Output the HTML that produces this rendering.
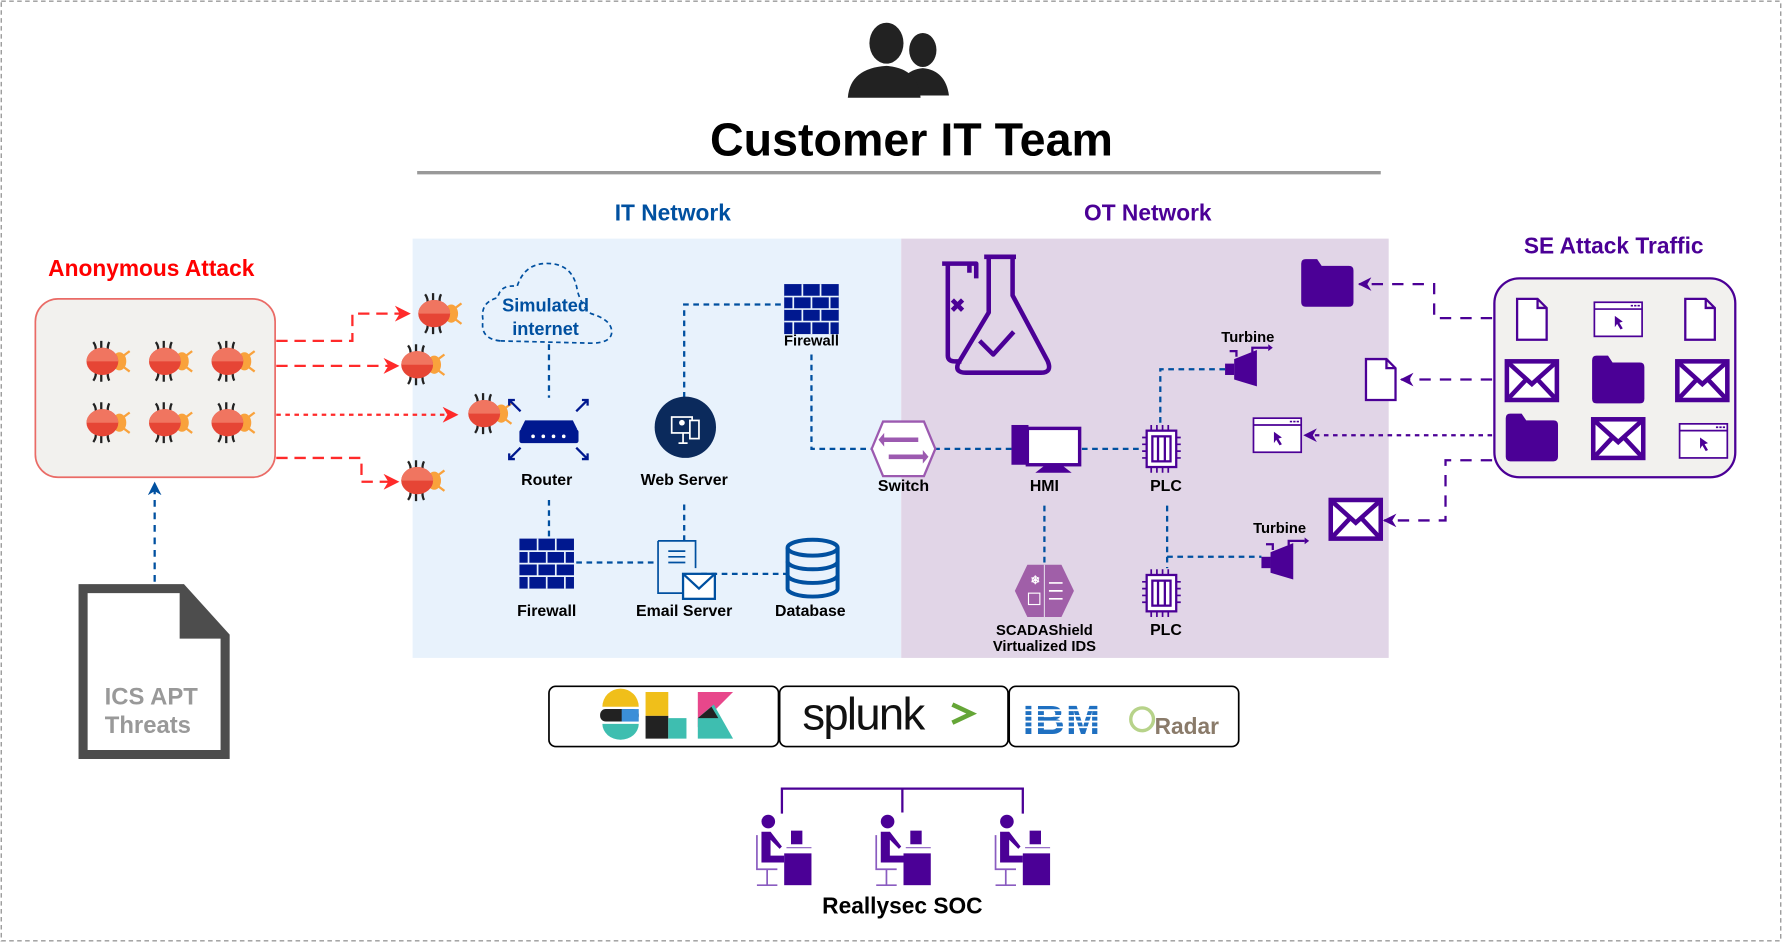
<!DOCTYPE html>
<html><head><meta charset="utf-8"><style>
html,body{margin:0;padding:0;background:#fff;}
svg{display:block;}
text{font-family:"Liberation Sans",Arial,sans-serif;font-weight:bold;}
</style></head><body>
<svg width="1782" height="942" viewBox="0 0 1568 829" xmlns="http://www.w3.org/2000/svg">
<defs>
<marker id="ar" viewBox="0 0 10 10" refX="9" refY="5" markerWidth="7" markerHeight="7" orient="auto"><path d="M0,0 L10,5 L0,10 L3,5z" fill="#ff2a2a"/></marker>
<marker id="ab" viewBox="0 0 10 10" refX="9" refY="5" markerWidth="6" markerHeight="6" orient="auto"><path d="M0,0 L10,5 L0,10 L3,5z" fill="#0050a0"/></marker>
<marker id="ap" viewBox="0 0 10 10" refX="9" refY="5" markerWidth="6" markerHeight="6" orient="auto"><path d="M0,0 L10,5 L0,10 L3,5z" fill="#4b0096"/></marker>
<g id="bug">
 <g stroke="#222" stroke-width="2" fill="none">
  <path d="M-10,-17 Q-7,-13 -8,-8 M-3,-18 L-3,-9 M4,-17 Q2,-13 3,-8"/>
  <path d="M-10,17 Q-7,13 -8,8 M-3,18 L-3,9 M4,17 Q2,13 3,8"/>
 </g>
 <g stroke="#f9a23c" stroke-width="2"><path d="M14,-3 L22,-9 M14,3 L22,9"/></g>
 <ellipse cx="13" cy="0" rx="6" ry="8" fill="#f9a23c"/>
 <ellipse cx="-2" cy="0" rx="14" ry="12" fill="#e64535"/>
 <path d="M-16,0 A14,12 0 0 1 12,0 Z" fill="#f07560"/>
</g>
<g id="fw" fill="#00188f">
 <rect x="0" y="0" width="48" height="44" fill="#00188f"/>
 <g stroke="#e8f2fc" stroke-width="1.5"><path d="M0,11 H48 M0,22 H48 M0,33 H48 M16,0 V11 M32,0 V11 M24,11 V22 M8,11 V22 M40,11 V22 M16,22 V33 M32,22 V33 M24,33 V44 M8,33 V44 M40,33 V44"/></g>
</g>
<g id="chip" stroke="#4b0096" fill="none" stroke-width="2">
 <rect x="-13" y="-16" width="26" height="32" fill="#fff"/>
 <rect x="-8" y="-11" width="16" height="22"/>
 <path d="M-3,-11 V11 M3,-11 V11"/>
 <path d="M-9,-16 V-21 M-4,-16 V-21 M1,-16 V-21 M6,-16 V-21 M-9,16 V21 M-4,16 V21 M1,16 V21 M6,16 V21 M-13,-10 H-17 M-13,-4 H-17 M-13,2 H-17 M-13,8 H-17 M13,-10 H17 M13,-4 H17 M13,2 H17 M13,8 H17" stroke-width="1.5"/>
</g>
<g id="turb" fill="#4b0096">
 <path d="M8,8 L28,0 L28,32 L8,26 Z"/>
 <rect x="0" y="12" width="8" height="10"/>
 <path d="M10,6 V1 H4 M24,2 V-2 H38" stroke="#4b0096" stroke-width="2" fill="none"/>
 <path d="M38,-5 L42,-2 L38,1 Z"/>
</g>
<g id="doc"><path d="M0,0 H18 L26,8 V36 H0 Z M18,0 V8 H26" fill="#fff" stroke="#4b0096" stroke-width="2"/></g>
<g id="env"><rect x="0" y="0" width="44" height="34" fill="#fff" stroke="#4b0096" stroke-width="4"/><path d="M2,2 L22,20 L42,2 M2,32 L17,16 M42,32 L27,16" stroke="#4b0096" stroke-width="4" fill="none"/></g>
<g id="fold"><path d="M0,4 Q0,0 4,0 H14 L18,6 H42 Q46,6 46,10 V38 Q46,42 42,42 H4 Q0,42 0,38 Z" fill="#4b0096"/></g>
<g id="brw"><rect x="0" y="0" width="42" height="30" fill="#fff" stroke="#4b0096" stroke-width="1.5"/><path d="M0,6 H42" stroke="#4b0096" stroke-width="1.5"/><path d="M32,3 h2 M35,3 h2 M38,3 h2" stroke="#4b0096" stroke-width="1.5"/><path d="M18,12 L18,22 L20,19 L23,24 L25,23 L22,18 L25,17 Z" fill="#4b0096"/></g>
<g id="soc">
 <circle cx="-14" cy="-42" r="6" fill="#4b0096"/>
 <path d="M-20,-33 H-12 L-2,-20 L-4,-18 L-12,-26 V-12 H0 V-6 H-20 Z" fill="#4b0096"/>
 <path d="M-24,-30 V0 H-6 M-15,0 V14 M-24,14 H-6" stroke="#8a5cc0" stroke-width="1.5" fill="none"/>
 <rect x="6" y="-34" width="10" height="12" fill="#4b0096"/>
 <path d="M2,-19 H24" stroke="#8a5cc0" stroke-width="1"/>
 <rect x="0" y="-14" width="24" height="28" fill="#4b0096"/>
</g>
</defs>

<rect x="1" y="1" width="1566" height="827" fill="#fff" stroke="#999" stroke-width="1.2" stroke-dasharray="4,3"/>

<g fill="#222">
 <ellipse cx="812" cy="44" rx="12" ry="15"/>
 <path d="M790,84 Q792,62 812,60 Q832,62 835,84 Z"/>
 <ellipse cx="780" cy="38" rx="15" ry="18"/>
 <path d="M746,86 Q748,60 780,58 Q808,60 810,86 Z"/>
</g>
<text x="802" y="137" font-size="41" text-anchor="middle" fill="#000">Customer IT Team</text>
<line x1="367" y1="152" x2="1215" y2="152" stroke="#999" stroke-width="3"/>

<text x="592" y="194" font-size="20" text-anchor="middle" fill="#0050a0">IT Network</text>
<text x="1010" y="194" font-size="20" text-anchor="middle" fill="#4b0096">OT Network</text>

<rect x="363" y="210" width="430" height="369" fill="#e8f2fc"/>
<rect x="793" y="210" width="429" height="369" fill="#e1d5e7"/>

<text x="133" y="243" font-size="20" text-anchor="middle" fill="#ff0000">Anonymous Attack</text>
<rect x="31" y="263" width="211" height="157" rx="20" fill="#f2f1ee" stroke="#ea6b66" stroke-width="1.5"/>
<use href="#bug" x="92" y="318"/><use href="#bug" x="147" y="318"/><use href="#bug" x="202" y="318"/>
<use href="#bug" x="92" y="372"/><use href="#bug" x="147" y="372"/><use href="#bug" x="202" y="372"/>

<g stroke="#ff2a2a" stroke-width="2" fill="none">
 <path d="M243,300 H310 V276 H360" stroke-dasharray="10,6" marker-end="url(#ar)"/>
 <path d="M243,322 H350" stroke-dasharray="10,6" marker-end="url(#ar)"/>
 <path d="M243,365 H402" stroke-dasharray="4,4" marker-end="url(#ar)"/>
 <path d="M243,403 H318 V424 H350" stroke-dasharray="10,6" marker-end="url(#ar)"/>
</g>
<use href="#bug" x="384" y="276"/><use href="#bug" x="369" y="321"/><use href="#bug" x="428" y="364"/><use href="#bug" x="369" y="423"/>

<path d="M136,512 V425" stroke="#0050a0" stroke-width="2" stroke-dasharray="6,5" fill="none" marker-end="url(#ab)"/>
<path d="M73,518 H160 L198,560 V664 H73 Z" fill="#fff" stroke="#4d4d4d" stroke-width="8"/>
<path d="M158,518 V562 H198 Z" fill="#4d4d4d"/>
<text x="133" y="620" font-size="21" text-anchor="middle" fill="#999">ICS APT</text>
<text x="130" y="645" font-size="21" text-anchor="middle" fill="#999">Threats</text>

<g stroke="#0050a0" stroke-width="2" stroke-dasharray="5,4" fill="none">
 <path d="M483,303 V350"/>
 <path d="M602,350 V268 H690"/>
 <path d="M714,312 V395 H768"/>
 <path d="M483,440 V478"/>
 <path d="M602,444 V476"/>
 <path d="M507,495 H578"/>
 <path d="M617,505 H692"/>
 <path d="M822,395 H890"/>
 <path d="M952,395 H1005"/>
 <path d="M1021,372 V325 H1080"/>
 <path d="M919,445 V497"/>
 <path d="M1027,445 V500"/>
 <path d="M1027,490 H1110"/>
</g>

<path d="M440,300 Q422,298 425,282 Q422,266 438,262 Q440,250 455,252 Q462,230 485,232 Q505,234 508,256 Q512,270 520,276 Q540,282 538,294 Q536,302 520,302 Z" fill="#e8f2fc" stroke="#0050a0" stroke-width="1.5" stroke-dasharray="4,3"/>
<text x="480" y="274" font-size="16" text-anchor="middle" fill="#0050a0">Simulated</text>
<text x="480" y="295" font-size="16" text-anchor="middle" fill="#0050a0">internet</text>

<g fill="#00188f">
 <path d="M462,370 H504 L508,378 H458 Z"/>
 <rect x="457" y="378" width="52" height="12" rx="2"/>
</g>
<g fill="#fff"><circle cx="469" cy="384" r="1.6"/><circle cx="478" cy="384" r="1.6"/><circle cx="487" cy="384" r="1.6"/><circle cx="496" cy="384" r="1.6"/></g>
<g stroke="#00188f" stroke-width="2" fill="none">
 <path d="M458,362 L448,352 M448,357 V352 H453"/><path d="M507,362 L517,352 M512,352 H517 V357"/>
 <path d="M458,394 L448,404 M448,399 V404 H453"/><path d="M507,394 L517,404 M512,404 H517 V399"/>
</g>
<text x="481" y="427" font-size="14" text-anchor="middle" fill="#000">Router</text>

<circle cx="603" cy="376" r="27" fill="#0b2a5c"/>
<rect x="591" y="367" width="18" height="14" fill="none" stroke="#fff" stroke-width="1.5"/>
<rect x="607" y="370" width="8" height="16" fill="#0b2a5c" stroke="#fff" stroke-width="1.5"/>
<circle cx="600" cy="372" r="2.5" fill="#fff"/>
<path d="M597,390 H605 M601,381 V390" stroke="#fff" stroke-width="1.5"/>
<text x="602" y="427" font-size="14" text-anchor="middle" fill="#000">Web Server</text>

<use href="#fw" x="690" y="250"/>
<text x="714" y="304" font-size="13" text-anchor="middle" fill="#000">Firewall</text>

<use href="#fw" x="457" y="474"/>
<text x="481" y="542" font-size="14" text-anchor="middle" fill="#000">Firewall</text>

<path d="M579,476 H612 V500 M579,476 V522 H601" fill="none" stroke="#0050a0" stroke-width="1.5"/>
<path d="M588,485 H603 M588,490 H603 M588,495 H603" stroke="#0050a0" stroke-width="1.5"/>
<rect x="601" y="505" width="28" height="22" fill="#fff" stroke="#0050a0" stroke-width="2"/>
<path d="M601,505 L615,518 L629,505" fill="none" stroke="#0050a0" stroke-width="2"/>
<text x="602" y="542" font-size="14" text-anchor="middle" fill="#000">Email Server</text>

<g fill="none" stroke="#0050a0" stroke-width="3.5">
 <ellipse cx="715" cy="482" rx="22" ry="7"/>
 <path d="M693,482 V518 A22,7 0 0 0 737,518 V482"/>
 <path d="M693,494 A22,7 0 0 0 737,494 M693,506 A22,7 0 0 0 737,506"/>
</g>
<text x="713" y="542" font-size="14" text-anchor="middle" fill="#000">Database</text>

<g fill="none" stroke="#4b0096" stroke-width="4" stroke-linejoin="round">
 <path d="M829,232 H859 V245 M834,232 V313 Q834,318 840,318 H846 M853,232 V240"/>
 <path d="M866,226 H894 M870,226 V275 L843,320 Q840,328 850,328 H916 Q926,328 922,318 L891,260 V226"/>
 <path d="M862,300 L874,312 L892,292"/>
 <path d="M838,264 L847,273 M847,264 L838,273"/>
</g>

<path d="M777,371 H813 L823,395 L813,419 H777 L767,395 Z" fill="#fff" stroke="#9c5ab0" stroke-width="2"/>
<g fill="#9c5ab0"><path d="M778,385 H808 V389 H778 Z M778,381 L773,387 L778,393 Z M782,400 H812 V404 H782 Z M812,396 L817,402 L812,408 Z"/></g>
<text x="795" y="432" font-size="14" text-anchor="middle" fill="#000">Switch</text>

<rect x="890" y="374" width="15" height="35" fill="#4b0096"/>
<rect x="904" y="377" width="46" height="32" fill="#fff" stroke="#4b0096" stroke-width="3"/>
<path d="M920,409 H934 L943,416 H911 Z" fill="#4b0096"/>
<text x="919" y="432" font-size="14" text-anchor="middle" fill="#000">HMI</text>

<use href="#chip" x="1022" y="395"/>
<text x="1026" y="432" font-size="14" text-anchor="middle" fill="#000">PLC</text>
<use href="#chip" x="1022" y="522"/>
<text x="1026" y="559" font-size="14" text-anchor="middle" fill="#000">PLC</text>

<use href="#turb" x="1078" y="308"/>
<text x="1098" y="301" font-size="13" text-anchor="middle" fill="#000">Turbine</text>
<use href="#turb" x="1110" y="478"/>
<text x="1126" y="469" font-size="13" text-anchor="middle" fill="#000">Turbine</text>

<path d="M904,497 H934 L945,520 L934,543 H904 L893,520 Z" fill="#a05fa8"/>
<path d="M919,497 V543" stroke="#e1d5e7" stroke-width="1"/>
<text x="911" y="514" font-size="10" text-anchor="middle" fill="#fff">❄</text>
<rect x="905" y="522" width="10" height="10" fill="none" stroke="#fff" stroke-width="1"/>
<path d="M923,513 H935 M923,520 H935 M923,527 H935" stroke="#fff" stroke-width="1.5"/>
<text x="919" y="559" font-size="13" text-anchor="middle" fill="#000">SCADAShield</text>
<text x="919" y="573" font-size="13" text-anchor="middle" fill="#000">Virtualized IDS</text>

<text x="1420" y="223" font-size="20" text-anchor="middle" fill="#4b0096">SE Attack Traffic</text>
<rect x="1315" y="245" width="212" height="175" rx="22" fill="#f2f1ee" stroke="#4b0096" stroke-width="2"/>
<use href="#doc" x="1335" y="263"/>
<use href="#brw" x="1403" y="266"/>
<use href="#doc" x="1483" y="263"/>
<use href="#env" x="1326" y="318"/>
<use href="#fold" x="1401" y="313"/>
<use href="#env" x="1476" y="318"/>
<use href="#fold" x="1325" y="364"/>
<use href="#env" x="1402" y="369"/>
<use href="#brw" x="1478" y="373"/>

<g stroke="#4b0096" stroke-width="2" fill="none">
 <path d="M1313,280 H1262 V250 H1196" stroke-dasharray="10,8" marker-end="url(#ap)"/>
 <path d="M1313,334 H1233" stroke-dasharray="10,8" marker-end="url(#ap)"/>
 <path d="M1313,383 H1148" stroke-dasharray="4,4" marker-end="url(#ap)"/>
 <path d="M1313,405 H1272 V458 H1218" stroke-dasharray="10,8" marker-end="url(#ap)"/>
</g>
<use href="#fold" x="1145" y="228"/>
<use href="#doc" x="1202" y="316"/>
<use href="#brw" x="1103" y="368"/>
<use href="#env" x="1171" y="440"/>

<g fill="#fff" stroke="#000" stroke-width="1.5">
 <rect x="483" y="604" width="202" height="53" rx="6"/>
 <rect x="686" y="604" width="201" height="53" rx="6"/>
 <rect x="888" y="604" width="202" height="53" rx="6"/>
</g>
<path d="M530,622 A16,16 0 0 1 562,622 Z" fill="#f0bf1a"/>
<rect x="528" y="624" width="34" height="11" rx="5" fill="#222"/>
<rect x="547" y="624" width="15" height="11" fill="#3b8fd8"/>
<path d="M530,637 H562 A16,14 0 0 1 530,637 Z" fill="#3ebeb0"/>
<path d="M568,609 H588 V630 H568 Z" fill="#f0bf1a"/>
<path d="M568,630 H588 V650 H568 Z" fill="#222"/>
<path d="M588,632 H604 V650 H588 Z" fill="#3ebeb0"/>
<path d="M614,609 H645 L614,640 Z" fill="#e8478b"/>
<path d="M614,632 L628,620 L645,650 H614 Z" fill="#3ebeb0"/>
<path d="M614,632 L626,622 L632,632 Z" fill="#222"/>
<text x="706" y="642" font-size="40" fill="#111" style="font-weight:normal;letter-spacing:-1.5px">splunk</text>
<path d="M838,620 L855,628 L838,636" fill="none" stroke="#65a637" stroke-width="4"/>
<text x="900" y="646" font-size="36" fill="#1f70c1" style="letter-spacing:1px">IBM</text>
<g stroke="#fff" stroke-width="1.6"><path d="M898,615 H992 M898,620 H992 M898,625 H992 M898,630 H992 M898,635 H992 M898,640 H992"/></g>
<circle cx="1005" cy="633" r="10" fill="none" stroke="#b7d38a" stroke-width="3"/>
<text x="1016" y="646" font-size="20" fill="#8a7b6a">Radar</text>

<path d="M688,716 V694 H900 V716 M794,694 V715" fill="none" stroke="#4b0096" stroke-width="2"/>
<use href="#soc" x="690" y="765"/>
<use href="#soc" x="795" y="765"/>
<use href="#soc" x="900" y="765"/>
<text x="794" y="804" font-size="20" text-anchor="middle" fill="#000">Reallysec SOC</text>
</svg>
</body></html>
